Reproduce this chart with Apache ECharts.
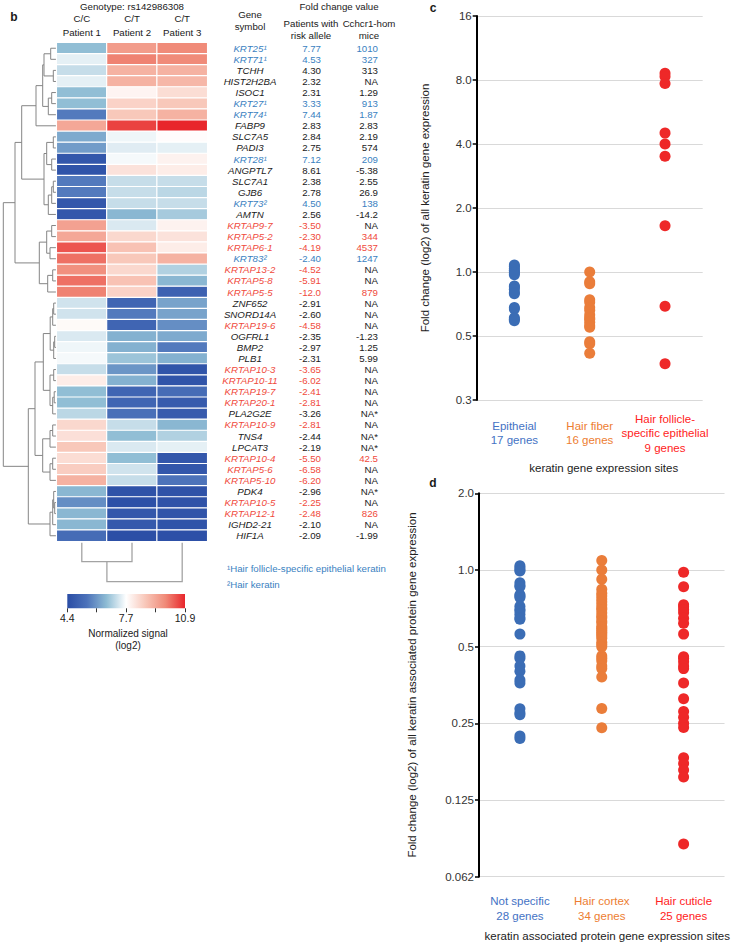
<!DOCTYPE html>
<html><head><meta charset="utf-8">
<script src="https://cdn.jsdelivr.net/npm/echarts@6/dist/echarts.min.js"></script>
<style>html,body{margin:0;padding:0;background:#fff}#main{width:732px;height:944px}</style>
</head><body><div id="main"></div>
<script>
// ---------------- DATA ----------------
const genes = ['KRT25','KRT71','TCHH','HIST2H2BA','ISOC1','KRT27','KRT74','FABP9','SLC7A5','PADI3','KRT28','ANGPTL7','SLC7A1','GJB6','KRT73','AMTN','KRTAP9-7','KRTAP5-2','KRTAP6-1','KRT83','KRTAP13-2','KRTAP5-8','KRTAP5-5','ZNF652','SNORD14A','KRTAP19-6','OGFRL1','BMP2','PLB1','KRTAP10-3','KRTAP10-11','KRTAP19-7','KRTAP20-1','PLA2G2E','KRTAP10-9','TNS4','LPCAT3','KRTAP10-4','KRTAP5-6','KRTAP5-10','PDK4','KRTAP10-5','KRTAP12-1','IGHD2-21','HIF1A'];
const geneNotes = ['¹','¹','','','','¹','¹','','','','¹','','','','²','','','','','²','','','','','','','','','','','','','','','','','','','','','','','','',''];
const patientFC = ['7.77','4.53','4.30','2.32','2.31','3.33','7.44','2.83','2.84','2.75','7.12','8.61','2.38','2.78','4.50','2.56','-3.50','-2.30','-4.19','-2.40','-4.52','-5.91','-12.0','-2.91','-2.60','-4.58','-2.35','-2.97','-2.31','-3.65','-6.02','-2.41','-2.81','-3.26','-2.81','-2.44','-2.19','-5.50','-6.58','-6.20','-2.96','-2.25','-2.48','-2.10','-2.09'];
const miceFC = ['1010','327','313','NA','1.29','913','1.87','2.83','2.19','574','209','-5.38','2.55','26.9','138','-14.2','NA','344','4537','1247','NA','NA','879','NA','NA','NA','-1.23','1.25','5.99','NA','NA','NA','NA','NA*','NA','NA*','NA*','42.5','NA','NA','NA*','NA','826','NA','-1.99'];
const colGenotypes = ['C/C','C/T','C/T'];
const colPatients = ['Patient 1','Patient 2','Patient 3'];
const signalP1 = [6.6,7.4,7.1,7.4,6.6,6.6,5.6,9.3,6.3,6.1,4.7,4.6,5.6,5.6,4.7,4.7,9.4,9.3,10.4,10.1,9.7,10.1,9.9,7.2,7.2,7.75,7.3,7.5,7.55,7.1,8.0,6.6,6.6,7.0,8.4,8.25,8.7,8.3,8.6,9.1,6.5,5.9,6.5,6.5,5.3];
const signalP2 = [9.5,9.9,9.1,9.1,7.85,8.5,8.7,10.6,7.5,7.35,7.55,8.2,7.1,7.1,7.1,6.5,7.3,8.4,8.8,8.7,8.4,8.8,8.5,5.1,5.6,5.1,6.4,6.4,6.7,6.0,6.4,5.1,5.1,5.4,7.1,6.6,7.3,6.6,7.2,7.1,4.55,4.5,4.7,4.75,4.45];
const signalP3 = [9.8,9.8,9.1,9.0,8.3,8.7,9.1,10.9,7.7,7.4,7.9,8.0,7.1,7.0,7.1,6.8,7.9,8.2,8.0,9.1,6.9,6.5,5.0,6.2,6.2,5.9,6.3,5.6,6.4,4.6,4.6,5.3,4.8,4.8,6.5,6.9,7.4,4.7,4.7,5.5,4.55,4.55,4.6,4.6,4.5];
// hierarchical clustering trees: [left, right, height]; leaves are row / column indices
const rowTree = [
  [
    [
      [[[[0,1,6],[2,3,3.4],12.7],[[4,5,5],6,8.4],14],7,20.7],
      [[[8,9,3.4],[10,11,5],10],[[[12,13,3.4],14,5],15,8.4],12.7],
      35
    ],
    [[[16,17,5],[18,19,6.7],10],[[20,21,4],22,9],17.4],
    41.7
  ],
  [
    [
      [[[[23,24,3],25,4],[[26,27,2],28,3],6.5],[[29,30,3],[[31,32,2.5],33,4],6.7],13.4],
      [[[34,35,4],36,6.7],[[37,38,4],39,6.7],14],
      21.7
    ],
    [[[40,[41,42,2],3],43,4],44,6.7],
    28.4
  ],
  53.4
];
const colTree = [[0,1,20.4],2,40.4];
const cbarLabels = ['4.4','','7.7','','10.9'];

const cCategories = ['Epitheial','Hair fiber','Hair follicle-\nspecific epithelial'];
const cCounts = ['17 genes','16 genes','9 genes'];
const cEpitheial = [1.08,1.06,1.04,1.02,1.0,0.99,0.97,0.86,0.85,0.83,0.80,0.79,0.68,0.67,0.61,0.60,0.59];
const cHairFiber = [1.0,0.90,0.88,0.74,0.72,0.68,0.66,0.63,0.61,0.60,0.58,0.56,0.55,0.47,0.46,0.415];
const cFollicle = [8.6,8.3,7.7,4.5,4.0,3.5,1.65,0.69,0.37];
const cTicks = [0.25,0.5,1,2,4,8,16];
const cTickLabels = ['0.3','0.5','1.0','2.0','4.0','8.0','16'];

const dCategories = ['Not specific','Hair cortex','Hair cuticle'];
const dCounts = ['28 genes','34 genes','25 genes'];
const dNotSpecific = [1.04,1.02,1.0,0.99,0.89,0.87,0.86,0.80,0.79,0.78,0.72,0.70,0.69,0.67,0.65,0.64,0.56,0.46,0.45,0.42,0.40,0.37,0.36,0.285,0.275,0.27,0.223,0.218];
const dHairCortex = [1.09,1.0,0.92,0.84,0.81,0.79,0.77,0.75,0.73,0.71,0.70,0.68,0.66,0.65,0.63,0.62,0.60,0.59,0.58,0.57,0.56,0.55,0.54,0.52,0.51,0.50,0.46,0.45,0.44,0.42,0.41,0.38,0.286,0.24];
const dHairCuticle = [0.98,0.86,0.73,0.718,0.70,0.68,0.646,0.618,0.56,0.456,0.45,0.436,0.42,0.41,0.36,0.312,0.278,0.264,0.25,0.241,0.183,0.174,0.164,0.154,0.084];
const dTicks = [0.0625,0.125,0.25,0.5,1,2];
const dTickLabels = ['0.062','0.125','0.25','0.5','1.0','2.0'];

// ---------------- STYLE ----------------
const FONT = '"Liberation Sans", Arial, Helvetica, sans-serif';
const heatColors = ['#2a4da5','#4c72ba','#8ebcd4','#ffffff','#f8c6b8','#f08a78','#e8262b'];
const BLUE_T = '#3a7fc1', RED_T = '#f04a3c', BLACK_T = '#1a1a1a';
const catColors = ['#4472c4','#ed7d31','#ff2222'];
const dotColors = ['#3b6db5','#ea7d3a','#ee2828'];

function geneColor(g){ return g.indexOf('KRTAP')===0 ? 'r' : (g.indexOf('KRT')===0 ? 'b' : 'k'); }
const richTable = {
  b:{color:BLUE_T,fontFamily:FONT,fontSize:9.7},
  r:{color:RED_T,fontFamily:FONT,fontSize:9.7},
  k:{color:BLACK_T,fontFamily:FONT,fontSize:9.7},
  bi:{color:BLUE_T,fontFamily:FONT,fontSize:9.7,fontStyle:'italic'},
  ri:{color:RED_T,fontFamily:FONT,fontSize:9.7,fontStyle:'italic'},
  ki:{color:BLACK_T,fontFamily:FONT,fontSize:9.7,fontStyle:'italic'}
};

// heatmap data
const heatData = [];
[signalP1, signalP2, signalP3].forEach((arr, c) => arr.forEach((v, r) => heatData.push([c, r, v])));

// dendrogram links
function links(node, leafH, out, horizontal){
  if (typeof node === 'number') return {p: node, h: leafH};
  const a = links(node[0], leafH, out, horizontal), b = links(node[1], leafH, out, horizontal), h = node[2];
  const pts = [[a.h,a.p],[h,a.p],[h,b.p],[b.h,b.p]];
  out.push({coords: horizontal ? pts : pts.map(q => [q[1], q[0]])});
  return {p: (a.p + b.p) / 2, h: h};
}
const rowLinks = []; links(rowTree, 0.8, rowLinks, true);
const colLinks = []; links(colTree, 1.4, colLinks, false);

function tickFmt(ticks, labels){
  return function(v){
    for (let i = 0; i < ticks.length; i++) if (Math.abs(Math.log2(v) - Math.log2(ticks[i])) < 0.01) return labels[i];
    return '';
  };
}
function catLabel(cats, counts){
  return function(v, i){
    const lines = cats[i].split('\n').concat([counts[i]]);
    return lines.map(s => '{s' + i + '|' + s + '}').join('\n');
  };
}
function catRich(){
  const r = {};
  catColors.forEach((c, i) => r['s' + i] = {color: c, fontSize: 11.5, lineHeight: 14.5, fontFamily: FONT});
  return r;
}

const hidden = {show:false};
const chart = echarts.init(document.getElementById('main'), null, {renderer:'svg'});

const graphicTexts = [
  ['b', 14, 17, 'bold 12px', 'center', BLACK_T],
  ['Genotype: rs142986308', 132, 6, '9.7px', 'center', BLACK_T],
  ['Gene', 250, 14, '9.7px', 'center', BLACK_T],
  ['symbol', 250, 26, '9.7px', 'center', BLACK_T],
  ['Fold change value', 339, 6, '9.7px', 'center', BLACK_T],
  ['Patients with', 311, 23, '9.7px', 'center', BLACK_T],
  ['risk allele', 311, 35, '9.7px', 'center', BLACK_T],
  ['Cchcr1-hom', 369, 23, '9.7px', 'center', BLACK_T],
  ['mice', 369, 35, '9.7px', 'center', BLACK_T],
  ['¹Hair follicle-specific epithelial keratin', 227, 568, '9.7px', 'left', BLUE_T],
  ['²Hair keratin', 227, 584, '9.7px', 'left', BLUE_T],
  ['Normalized signal', 128, 633, '10px', 'center', BLACK_T],
  ['(log2)', 128, 645.5, '10px', 'center', BLACK_T],
  ['c', 433, 8, 'bold 12px', 'center', BLACK_T],
  ['d', 433, 483, 'bold 12px', 'center', BLACK_T]
];

const option = {
  animation: false,
  backgroundColor: '#fff',
  textStyle: {fontFamily: FONT},
  grid: [
    {left: 56.7, top: 42.7, width: 150.6, height: 498.6},
    {left: 0, top: 42.7, width: 56.7, height: 498.6},
    {left: 56.7, top: 541.3, width: 150.6, height: 50},
    {left: 67.3, top: 594, width: 117.7, height: 14.3},
    {left: 476.7, top: 16, width: 226, height: 384},
    {left: 479, top: 493.3, width: 247, height: 383.4}
  ],
  visualMap: {show:false, type:'continuous', min:4.4, max:10.9, seriesIndex:0, dimension:2, inRange:{color: heatColors}},
  xAxis: [
    {type:'category', gridIndex:0, data: colGenotypes, position:'top', axisLine:hidden, axisTick:hidden,
     axisLabel:{formatter:(v,i)=> v + '\n' + colPatients[i], fontSize:9.7, lineHeight:14, color:BLACK_T, margin:3}},
    {type:'value', gridIndex:1, min:0, max:56.7, inverse:true, show:false},
    {type:'value', gridIndex:2, min:-0.5, max:2.5, show:false},
    {type:'value', gridIndex:3, min:0, max:4, interval:1, axisLine:hidden, splitLine:hidden,
     axisTick:{show:true, length:4, lineStyle:{color:'#333'}},
     axisLabel:{formatter:(v)=> cbarLabels[Math.round(v)] || '', fontSize:10.5, color:BLACK_T, margin:4}},
    {type:'category', gridIndex:4, data: cCategories, axisLine:hidden, axisTick:hidden,
     axisLabel:{interval:0, formatter: catLabel(cCategories, cCounts), rich: catRich(), verticalAlign:'middle', margin:33},
     name:'keratin gene expression sites', nameLocation:'middle', nameGap:62,
     nameTextStyle:{fontSize:11.5, color:'#222', padding:[0,0,0,28]}},
    {type:'category', gridIndex:5, data: dCategories, axisLine:hidden, axisTick:hidden,
     axisLabel:{interval:0, formatter: catLabel(dCategories, dCounts), rich: catRich(), verticalAlign:'middle', margin:32},
     name:'keratin associated protein gene expression sites', nameLocation:'middle', nameGap:53,
     nameTextStyle:{fontSize:11.5, color:'#222', padding:[0,0,0,11]}}
  ],
  yAxis: [
    {type:'category', gridIndex:0, data: genes, inverse:true, position:'right', axisLine:hidden, axisTick:hidden,
     axisLabel:{interval:0, margin:42.7, align:'center', rich: richTable,
       formatter:(v,i)=> '{' + geneColor(genes[i]) + 'i|' + v + geneNotes[i] + '}'}},
    {type:'category', gridIndex:0, data: genes, inverse:true, position:'right', axisLine:hidden, axisTick:hidden,
     axisLabel:{interval:0, margin:113.7, align:'right', rich: richTable,
       formatter:(v,i)=> '{' + geneColor(genes[i]) + '|' + patientFC[i] + '}'}},
    {type:'category', gridIndex:0, data: genes, inverse:true, position:'right', axisLine:hidden, axisTick:hidden,
     axisLabel:{interval:0, margin:170.7, align:'right', rich: richTable,
       formatter:(v,i)=> '{' + (miceFC[i].indexOf('NA')===0 ? 'k' : geneColor(genes[i])) + '|' + miceFC[i] + '}'}},
    {type:'value', gridIndex:1, min:-0.5, max:44.5, inverse:true, show:false},
    {type:'value', gridIndex:2, min:0, max:50, inverse:true, show:false},
    {type:'value', gridIndex:3, show:false},
    {type:'log', gridIndex:4, logBase:2, min:0.25, max:16, splitNumber:6,
     axisLine:{show:true, lineStyle:{color:'#000', width:2}},
     axisTick:{show:true, length:4, lineStyle:{color:'#000', width:1.5}},
     splitLine:{show:true, lineStyle:{color:'#d9d9d9', width:1}},
     axisLabel:{formatter: tickFmt(cTicks, cTickLabels), fontSize:11.5, color:'#333', margin:5},
     name:'Fold change (log2) of all keratin gene expression', nameLocation:'middle', nameRotate:90, nameGap:46,
     nameTextStyle:{fontSize:11.5, color:'#222'}},
    {type:'log', gridIndex:5, logBase:2, min:0.0625, max:2, splitNumber:5,
     axisLine:{show:true, lineStyle:{color:'#000', width:2}},
     axisTick:{show:true, length:4, lineStyle:{color:'#000', width:1.5}},
     splitLine:{show:true, lineStyle:{color:'#d9d9d9', width:1}},
     axisLabel:{formatter: tickFmt(dTicks, dTickLabels), fontSize:11.5, color:'#333', margin:5},
     name:'Fold change (log2) of all keratin associated protein gene expression', nameLocation:'middle', nameRotate:90, nameGap:61,
     nameTextStyle:{fontSize:11.5, color:'#222'}}
  ],
  series: [
    {type:'heatmap', xAxisIndex:0, yAxisIndex:0, data: heatData, itemStyle:{borderColor:'#fff', borderWidth:1.2}, emphasis:{disabled:true}},
    {type:'lines', coordinateSystem:'cartesian2d', xAxisIndex:1, yAxisIndex:3, polyline:true, silent:true,
     data: rowLinks, lineStyle:{color:'#858585', width:1, opacity:1}},
    {type:'lines', coordinateSystem:'cartesian2d', xAxisIndex:2, yAxisIndex:4, polyline:true, silent:true,
     data: colLinks, lineStyle:{color:'#a3a3a3', width:1.3, opacity:1}},
    {type:'scatter', xAxisIndex:4, yAxisIndex:6, symbolSize:11, itemStyle:{color:dotColors[0], opacity:1}, data: cEpitheial.map(v=>[0,v])},
    {type:'scatter', xAxisIndex:4, yAxisIndex:6, symbolSize:11, itemStyle:{color:dotColors[1], opacity:1}, data: cHairFiber.map(v=>[1,v])},
    {type:'scatter', xAxisIndex:4, yAxisIndex:6, symbolSize:11, itemStyle:{color:dotColors[2], opacity:1}, data: cFollicle.map(v=>[2,v])},
    {type:'scatter', xAxisIndex:5, yAxisIndex:7, symbolSize:11, itemStyle:{color:dotColors[0], opacity:1}, data: dNotSpecific.map(v=>[0,v])},
    {type:'scatter', xAxisIndex:5, yAxisIndex:7, symbolSize:11, itemStyle:{color:dotColors[1], opacity:1}, data: dHairCortex.map(v=>[1,v])},
    {type:'scatter', xAxisIndex:5, yAxisIndex:7, symbolSize:11, itemStyle:{color:dotColors[2], opacity:1}, data: dHairCuticle.map(v=>[2,v])}
  ],
  graphic: [
    {type:'rect', left:67.3, top:594, shape:{width:117.7, height:14.3}, silent:true,
     style:{fill: new echarts.graphic.LinearGradient(0,0,1,0, heatColors.map((c,i)=>({offset:i/(heatColors.length-1), color:c})))}}
  ].concat(graphicTexts.map(t => ({
    type:'text', x:t[1], y:t[2], silent:true,
    style:{text:t[0], font: t[3] + ' ' + FONT, fill:t[5], align:t[4], textAlign:t[4], verticalAlign:'middle', textVerticalAlign:'middle'}
  })))
};
chart.setOption(option);
</script></body></html>
